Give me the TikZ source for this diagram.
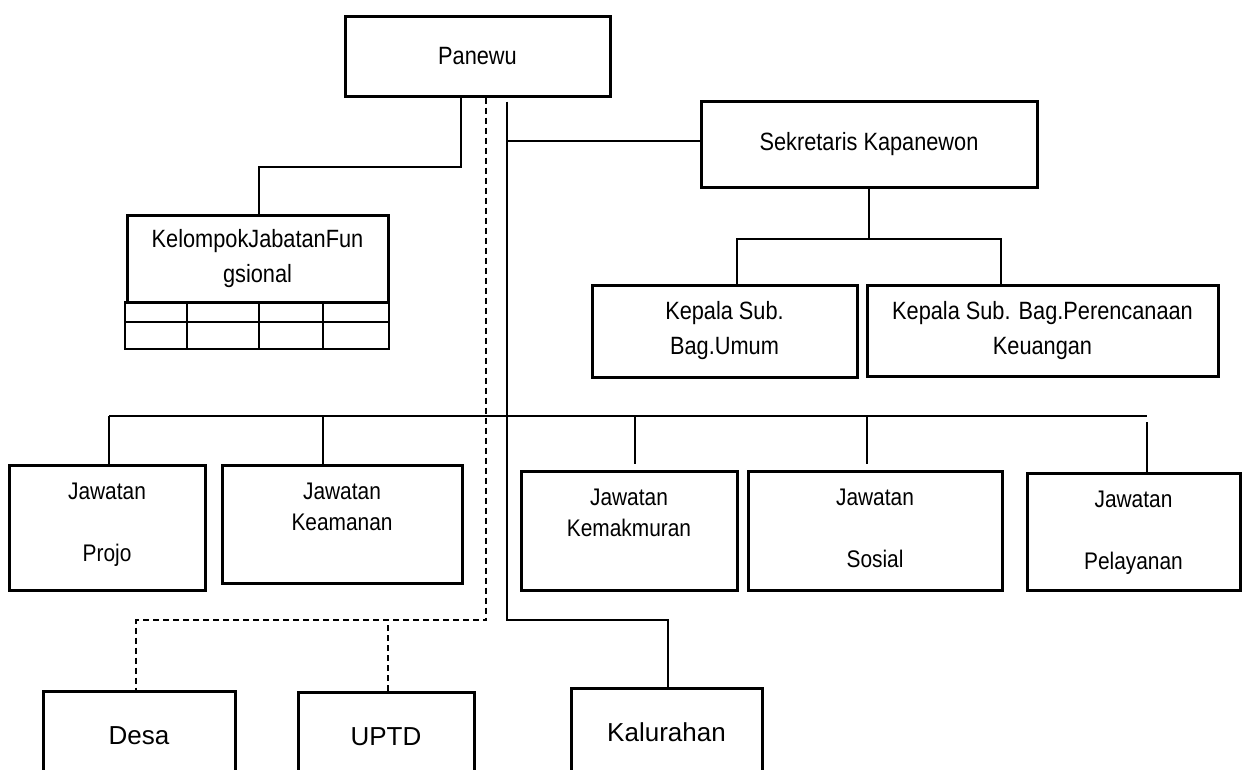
\documentclass[tikz,border=0pt]{standalone}
\usepackage{fontspec}
\setmainfont{Liberation Sans}
\newfontfamily\narrowsf[FakeStretch=0.87]{Liberation Sans}
\begin{document}
\begin{tikzpicture}[x=1pt, y=-1pt,
   box/.style={draw, line width=3pt, inner sep=0pt, align=center,
      font=\narrowsf\fontsize{25}{35}\selectfont},
   jawatan/.style={draw, line width=3pt, inner sep=0pt},
   jlabel/.style={anchor=north, yshift=-19pt, inner sep=0pt, align=center,
      font=\narrowsf\fontsize{24}{31}\selectfont},
   lowbox/.style={box, font=\fontsize{26}{30}\selectfont},
   link/.style={line width=2pt},
   duty/.style={line width=1.5pt, dash pattern=on 6pt off 4pt},
   cell/.style={line width=1.8pt}]

\useasboundingbox (0,0) rectangle (1243,769);
\clip (0,0) rectangle (1243,769);

% top level
\node[box, minimum width=265pt, minimum height=80pt] (panewu) at (477.5,56) {Panewu};
\node[box, minimum width=336pt, minimum height=86pt] (sekretaris) at (869,144) {Sekretaris Kapanewon};
\node[box, minimum width=261pt, minimum height=87pt] (kjf) at (257.5,258.5) {KelompokJabatanFun\\gsional};
\node[box, minimum width=265pt, minimum height=92pt] (kumum) at (724.5,331) {Kepala Sub.\\Bag.Umum};
\node[box, minimum width=351pt, minimum height=91pt] (kkeu) at (1042.5,331) {Kepala Sub. Bag.Perencanaan\\Keuangan};

% jawatan row
\node[jawatan, minimum width=196pt, minimum height=125pt,
   label={[jlabel]north:{Jawatan\\[31pt]Projo}}] (projo) at (107,527.5) {};
\node[jawatan, minimum width=240pt, minimum height=118pt,
   label={[jlabel]north:{Jawatan\\Keamanan}}] (keamanan) at (342,524) {};
\node[jawatan, minimum width=216pt, minimum height=119pt,
   label={[jlabel]north:{Jawatan\\Kemakmuran}}] (kemakmuran) at (629,530.5) {};
\node[jawatan, minimum width=254pt, minimum height=119pt,
   label={[jlabel]north:{Jawatan\\[31pt]Sosial}}] (sosial) at (875,530.5) {};
\node[jawatan, minimum width=213pt, minimum height=117pt,
   label={[jlabel]north:{Jawatan\\[31pt]Pelayanan}}] (pelayanan) at (1133.5,531.5) {};

% bottom row
\node[lowbox, minimum width=192pt, minimum height=90pt] (desa) at (139,736) {Desa};
\node[lowbox, minimum width=176pt, minimum height=90pt] (uptd) at (386,737) {UPTD};
\node[lowbox, minimum width=191pt, minimum height=88pt] (kalurahan) at (666.5,732) {Kalurahan};

% table under the functional group
\draw[cell] (125,302) rectangle (389,349);
\draw[cell] (125,322) -- (389,322);
\foreach \x in {187,259,323}
   \draw[cell] (\x,302) -- (\x,349);

% connectors
\coordinate (stop) at ([xshift=29.5pt, yshift=-4pt]panewu.south);
\coordinate (sbend) at (507,620);
\coordinate (dsplit) at (486,620);
\coordinate (busL) at (109,416);
\coordinate (busR) at (1147,416);

\draw[link] ([xshift=-16.5pt]panewu.south) -- ++(0,69) -| ([xshift=1.5pt]kjf.north);
\draw[link] (stop) -- (sbend) -| ([xshift=1.5pt]kalurahan.north);
\draw[link] (stop |- sekretaris.west) ++(0,-3) -- ([yshift=3pt]sekretaris.west);
\draw[duty] ([xshift=8.5pt]panewu.south) -- (dsplit) -| ([xshift=-3pt]desa.north);
\draw[duty] ([xshift=2pt]uptd.north) -- ([xshift=2pt]uptd.north |- dsplit);

\draw[link] (sekretaris.south) -- ++(0,50) coordinate (kjoin);
\draw[link] ([xshift=12.5pt]kumum.north) |- (kjoin) -| ([xshift=-41.5pt]kkeu.north);

\draw[link] (busL) -- (busR);
\foreach \n/\dx/\gap in {projo/2/0, keamanan/-19/0, kemakmuran/6/6, sosial/-8/6}
   \draw[link, shorten <=\gap pt] ([xshift=\dx pt]\n.north) -- ([xshift=\dx pt]\n.north |- busL);
\draw[link, shorten <=6pt] (busR) -- ([xshift=13.5pt]pelayanan.north);

\end{tikzpicture}
\end{document}
